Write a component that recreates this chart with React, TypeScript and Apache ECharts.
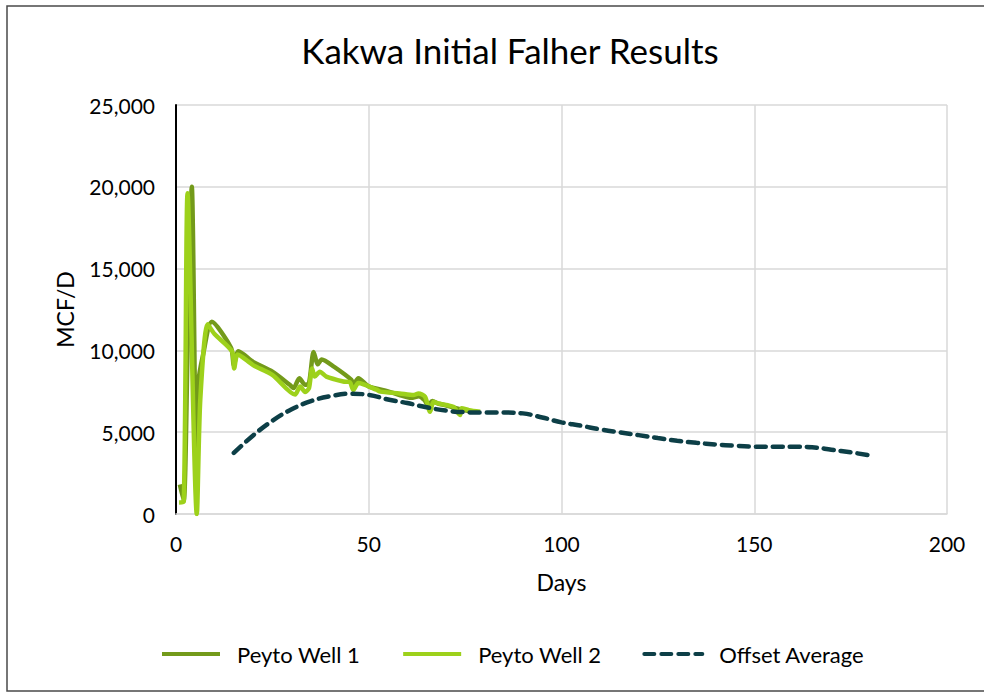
import React, { useEffect, useRef } from "react";
import * as echarts from "echarts";

const title = "Kakwa Initial Falher Results";
const xTicks = [0, 50, 100, 150, 200];
const yTicks = [0, 5000, 10000, 15000, 20000, 25000];

const well1Days = [1, 2, 3, 4.1, 5.3, 5.8, 7, 9.3, 14.3, 15, 16.2, 20, 25, 29.5, 30.5, 32, 33.5, 34.5, 35.7, 36.8, 37.8, 41, 45.5, 46, 47.3, 50, 55, 58, 61, 63, 64.5, 65.4, 66.5, 68, 70, 72, 74, 76.5];
const well1Vals = [1800, 800, 10000, 20000, 2100, 8000, 9700, 11750, 10150, 9100, 9950, 9300, 8700, 7900, 7700, 8300, 7900, 8000, 9900, 9150, 9450, 9000, 8200, 7900, 8300, 7800, 7500, 7270, 7100, 7200, 6950, 6650, 6900, 6750, 6650, 6500, 6400, 6250];

const well2Days = [0.8, 2, 3, 5.4, 6.3, 8.2, 10, 14.5, 15.1, 16, 20, 25, 30.9, 32.2, 33.5, 34.5, 35.3, 36, 37.3, 39, 43.4, 45.1, 46, 47.3, 52, 53, 58, 61.6, 62.9, 64.6, 65.9, 66.8, 68, 70.2, 72, 73.7, 74.1, 76, 78.9];
const well2Vals = [700, 750, 19600, 0, 7000, 11600, 11000, 9950, 8900, 9750, 9100, 8500, 7300, 7800, 7450, 7700, 8900, 8400, 8700, 8400, 8100, 8050, 7580, 8000, 7600, 7480, 7370, 7270, 7370, 7170, 6250, 6860, 6760, 6660, 6550, 6050, 6460, 6350, 6250];

const offsetDays = [15, 20, 25, 30, 35, 40, 45, 50, 55, 60, 65, 70, 75, 80, 85, 90, 95, 100, 105, 110, 115, 120, 125, 130, 135, 140, 145, 150, 155, 160, 165, 170, 175, 180];
const offsetVals = [3730, 4800, 5700, 6400, 6900, 7200, 7350, 7280, 7000, 6780, 6520, 6320, 6220, 6200, 6200, 6150, 5900, 5600, 5400, 5170, 4990, 4820, 4640, 4480, 4350, 4250, 4170, 4120, 4110, 4110, 4080, 3930, 3770, 3580];

const zip = (a: number[], b: number[]) => a.map((d, i) => [d, b[i]]);

const FONT = "Lato";

export default function App() {
  const ref = useRef<HTMLDivElement>(null);
  useEffect(() => {
    if (!ref.current) return;
    const chart = echarts.init(ref.current, undefined, { renderer: "svg" });
    chart.setOption({
      animation: false,
      backgroundColor: "#ffffff",
      textStyle: { fontFamily: FONT },
      title: {
        text: title,
        left: 505,
        top: 27,
        textAlign: "center",
        textStyle: { fontFamily: FONT, fontSize: 35, fontWeight: "normal", color: "#000" },
      },
      graphic: [
        {
          type: "rect",
          shape: { x: 7, y: 6, width: 990, height: 685 },
          style: { fill: "none", stroke: "#4a4a4a", lineWidth: 1.5 },
          silent: true,
          z: -1,
        },
      ],
      legend: {
        left: 155,
        top: 638,
        itemWidth: 58,
        itemHeight: 14,
        itemGap: 41,
        itemStyle: { opacity: 0 },
        lineStyle: { width: 4 },
        textStyle: { fontFamily: FONT, fontSize: 22, color: "#000", padding: [0, 0, 0, 12] },
        data: ["Peyto Well 1", "Peyto Well 2", "Offset Average"],
      },
      grid: { left: 176, right: 37, top: 105, bottom: 179, containLabel: false },
      xAxis: {
        type: "value",
        min: xTicks[0],
        max: xTicks[xTicks.length - 1],
        interval: 50,
        name: "Days",
        nameLocation: "middle",
        nameGap: 56,
        nameTextStyle: { fontFamily: FONT, fontSize: 23, color: "#000" },
        axisLine: { show: true, lineStyle: { color: "#d9d9d9", width: 1.5 } },
        axisTick: { show: false },
        axisLabel: { fontFamily: FONT, fontSize: 21, color: "#000", margin: 19 },
        splitLine: { show: true, lineStyle: { color: "#d9d9d9", width: 1.5 } },
      },
      yAxis: {
        type: "value",
        min: yTicks[0],
        max: yTicks[yTicks.length - 1],
        interval: 5000,
        name: "MCF/D",
        nameLocation: "middle",
        nameGap: 100,
        nameTextStyle: { fontFamily: FONT, fontSize: 23, color: "#000" },
        axisLine: { show: true, lineStyle: { color: "#000", width: 2 } },
        axisTick: { show: false },
        axisLabel: {
          fontFamily: FONT,
          fontSize: 21,
          color: "#000",
          margin: 21,
          formatter: (v: number) => v.toLocaleString("en-US"),
        },
        splitLine: { show: true, lineStyle: { color: "#d9d9d9", width: 1.5 } },
      },
      series: [
        {
          name: "Peyto Well 1",
          type: "line",
          data: zip(well1Days, well1Vals),
          symbol: "none",
          smooth: 0.25,
          lineStyle: { color: "#739A1A", width: 4.5 },
          itemStyle: { color: "#739A1A" },
          z: 2,
        },
        {
          name: "Peyto Well 2",
          type: "line",
          data: zip(well2Days, well2Vals),
          symbol: "none",
          smooth: 0.25,
          lineStyle: { color: "#9DD11B", width: 4.5 },
          itemStyle: { color: "#9DD11B" },
          z: 3,
        },
        {
          name: "Offset Average",
          type: "line",
          data: zip(offsetDays, offsetVals),
          symbol: "none",
          smooth: 0.4,
          lineStyle: { color: "#0D3F47", width: 4.5, type: [10, 7], cap: "round" },
          itemStyle: { color: "#0D3F47" },
          z: 4,
        },
      ],
    });
    return () => chart.dispose();
  }, []);
  return (
    <div
      ref={ref}
      style={{ position: "fixed", left: 0, top: 0, width: 984, height: 693 }}
    />
  );
}
